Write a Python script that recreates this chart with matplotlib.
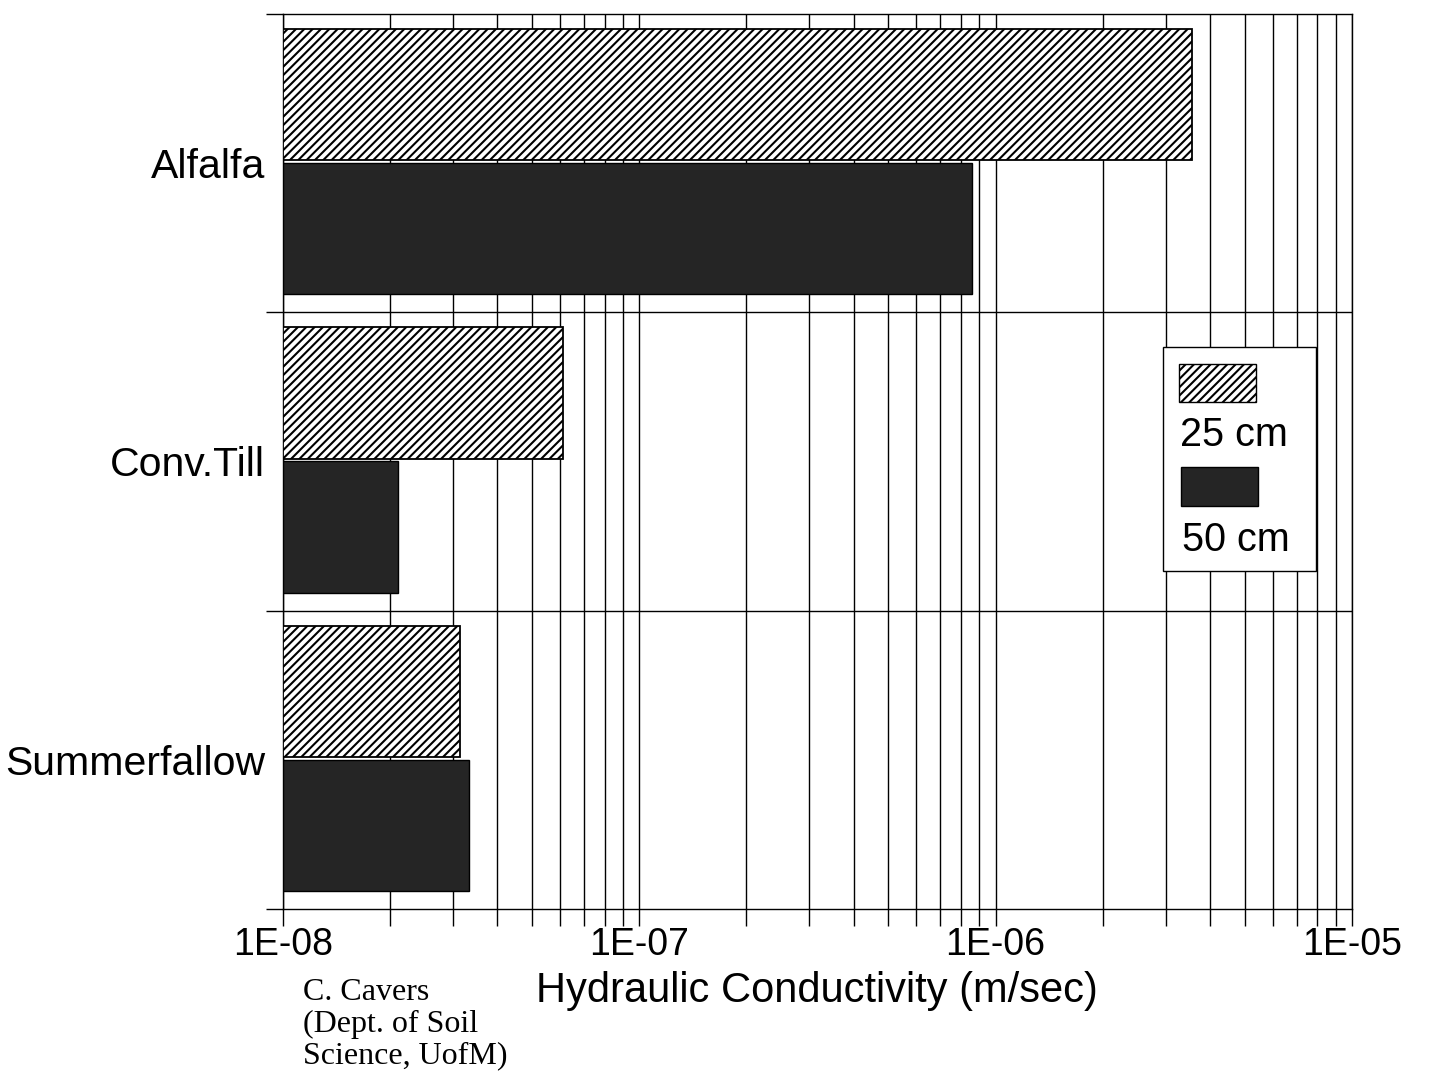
import matplotlib
matplotlib.use("Agg")
import matplotlib.pyplot as plt
from matplotlib.patches import Rectangle
from matplotlib.ticker import LogLocator, NullFormatter, FixedLocator, FixedFormatter
import numpy as np

categories = ["Alfalfa", "Conv.Till", "Summerfallow"]
k_25cm = [3.55e-6, 6.1e-8, 3.15e-8]
k_50cm = [8.6e-7, 2.1e-8, 3.33e-8]
series_labels = ["25 cm", "50 cm"]
xtick_vals = [1e-8, 1e-7, 1e-6, 1e-5]
xtick_labels = ["1E-08", "1E-07", "1E-06", "1E-05"]

plt.rcParams['font.family'] = ['Liberation Sans', 'DejaVu Sans']
plt.rcParams['hatch.linewidth'] = 1.5

fig = plt.figure(figsize=(14.29, 10.77), dpi=100)
ax = fig.add_axes([0.198, 0.156, 0.748, 0.831])

ax.set_xscale('log')
ax.set_xlim(1e-8, 1e-5)
ax.set_ylim(3, 0)

solid_color = '#252525'
pos = np.arange(len(categories))
h = 0.44
ax.barh(pos + 0.05 + h / 2, [v - 1e-8 for v in k_25cm], left=1e-8, height=h,
        color='white', edgecolor='black', hatch='////', linewidth=1.3, zorder=3)
ax.barh(pos + 0.50 + h / 2, [v - 1e-8 for v in k_50cm], left=1e-8, height=h,
        color=solid_color, edgecolor='black', linewidth=1.0, zorder=3)

# grid
ax.xaxis.set_major_locator(FixedLocator(xtick_vals))
ax.xaxis.set_major_formatter(FixedFormatter(xtick_labels))
ax.xaxis.set_minor_locator(LogLocator(base=10, subs=np.arange(2, 10), numticks=20))
ax.xaxis.set_minor_formatter(NullFormatter())
ax.grid(True, axis='x', which='both', color='black', linewidth=1.0, zorder=0)
ax.set_axisbelow(True)

ax.tick_params(axis='x', which='both', direction='out', length=12, width=1.0,
               labelsize=27, pad=1, top=False)

# y: boundaries as major ticks, labels on minor ticks
ax.yaxis.set_major_locator(FixedLocator([0, 1, 2, 3]))
ax.yaxis.set_major_formatter(NullFormatter())
ax.yaxis.set_minor_locator(FixedLocator(pos + 0.5))
ax.yaxis.set_minor_formatter(FixedFormatter(categories))
ax.tick_params(axis='y', which='major', direction='out', length=12, width=1.0)
ax.tick_params(axis='y', which='minor', length=0, labelsize=29.5, pad=13)
for yb in [1, 2]:
    ax.axhline(yb, color='black', linewidth=1.0, zorder=1)

for s in ax.spines.values():
    s.set_linewidth(1.0)
    s.set_color('black')

ax.set_xlabel("Hydraulic Conductivity (m/sec)", fontsize=30, labelpad=6)

# legend (custom, labels below swatches)
ax.add_patch(Rectangle((0.8235, 0.378), 0.143, 0.25, transform=ax.transAxes,
                       facecolor='white', edgecolor='black', linewidth=1.0, zorder=5))
ax.add_patch(Rectangle((0.838, 0.566), 0.072, 0.043, transform=ax.transAxes,
                       facecolor='white', edgecolor='black', hatch='////', linewidth=1.0, zorder=6))
ax.add_patch(Rectangle((0.840, 0.450), 0.072, 0.044, transform=ax.transAxes,
                       facecolor=solid_color, edgecolor='black', linewidth=1.0, zorder=6))
ax.text(0.839, 0.530, series_labels[0], transform=ax.transAxes, fontsize=28.5,
        ha='left', va='center', zorder=7)
ax.text(0.841, 0.412, series_labels[1], transform=ax.transAxes, fontsize=28.5,
        ha='left', va='center', zorder=7)

fig.text(303 / 1429, 1 - 978 / 1077, "C. Cavers\n(Dept. of Soil\nScience, UofM)",
         family=['Liberation Serif', 'DejaVu Serif'], fontsize=23, ha='left', va='top',
         linespacing=1.12)

fig.savefig("out.png", dpi=100)
